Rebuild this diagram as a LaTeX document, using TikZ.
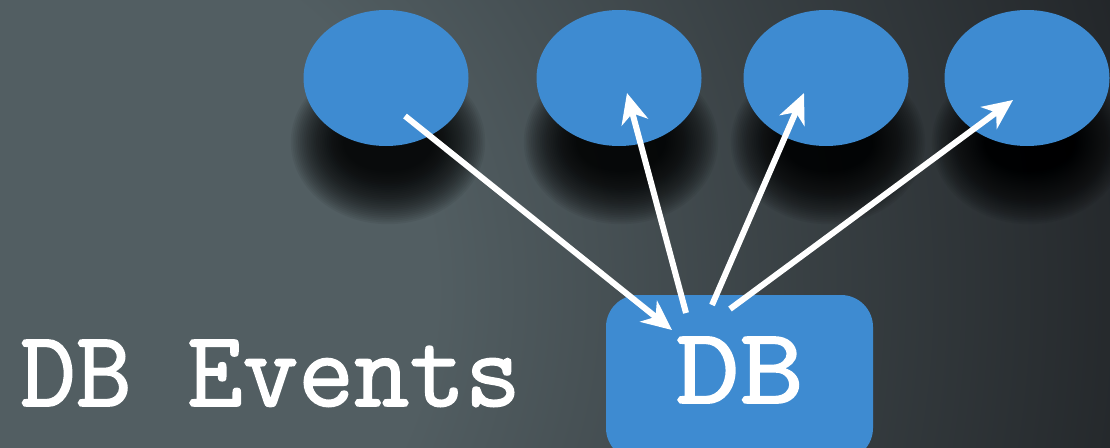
\documentclass[tikz,border=0pt]{standalone}
\usepackage{fontspec}
\usepackage{graphicx}
\newfontfamily\typefont{Latin Modern Mono}[FakeBold=1.6]
\usetikzlibrary{arrows.meta,calc,shapes.geometric}
\definecolor{bubble}{RGB}{62,139,209}
\definecolor{bgin}{RGB}{82,94,98}
\definecolor{bgout}{RGB}{26,28,31}
% backdrop glow: flat slate core, falling off to near black
\pgfdeclareradialshading{backdrop}{\pgfpoint{0bp}{0bp}}{%
  color(0bp)=(bgin); color(7bp)=(bgin); color(14bp)=(bgin!55!bgout);
  color(21bp)=(bgin!15!bgout); color(28bp)=(bgout); color(50bp)=(bgout)}
\begin{document}
\begin{tikzpicture}[x=1pt,y=-1pt,
  topic/.style={ellipse, fill=bubble, minimum width=165pt, minimum height=136pt, inner sep=0pt},
  store/.style={rectangle, rounded corners=32pt, fill=bubble, minimum width=267pt,
    minimum height=165pt, inner sep=0pt, text=white, text depth=15pt,
    font=\typefont\bfseries\fontsize{108}{108}\selectfont},
  caption/.style={text=white, inner sep=0pt, font=\typefont\bfseries\fontsize{108}{108}\selectfont},
  flow/.style={draw=white, line width=6pt, -{Stealth[length=30pt,width=27pt,inset=9pt]}},
]
\useasboundingbox (0,0) rectangle (1110,447);
\clip (0,0) rectangle (1110,447);

% backdrop
\shade[shading=backdrop] (70,290) circle[radius=1300];

% soft drop shadows under the event bubbles
\foreach \cx in {386,619,826,1027}{
  \foreach \k in {0,...,29}{
    \fill[black, opacity=0.055] (\cx+2,142) ellipse [x radius=45+1.8*\k, y radius=30+1.8*\k];
  }
}

% event bubbles
\node[topic] (e1) at (386,78) {};
\node[topic] (e2) at (619,78) {};
\node[topic] (e3) at (826,78) {};
\node[topic] (e4) at (1027,78) {};

% database box and title
\node[store] (db) at (739.5,377.5) {\scalebox{1.15}[1]{DB}};
\node[caption, anchor=base west] (title) at (20,406) {DB Events};

% arrow end points
\coordinate (e1out) at ($(e1.center)+(19,38)$);
\coordinate (dbin)  at ($(db.center)+(-67.5,-47.5)$);
\coordinate (dbo2)  at ($(db.center)+(-53.5,-64.5)$);
\coordinate (dbo3)  at ($(db.center)+(-27.5,-72.5)$);
\coordinate (dbo4)  at ($(db.center)+(-9.5,-68.5)$);
\coordinate (e2in)  at ($(e2.center)+(8,15)$);
\coordinate (e3in)  at ($(e3.center)+(-22,15)$);
\coordinate (e4in)  at ($(e4.center)+(-14,22)$);

% event flow
\draw[flow] (e1out) -- (dbin);
\draw[flow] (dbo2) -- (e2in);
\draw[flow] (dbo3) -- (e3in);
\draw[flow] (dbo4) -- (e4in);
\end{tikzpicture}
\end{document}
